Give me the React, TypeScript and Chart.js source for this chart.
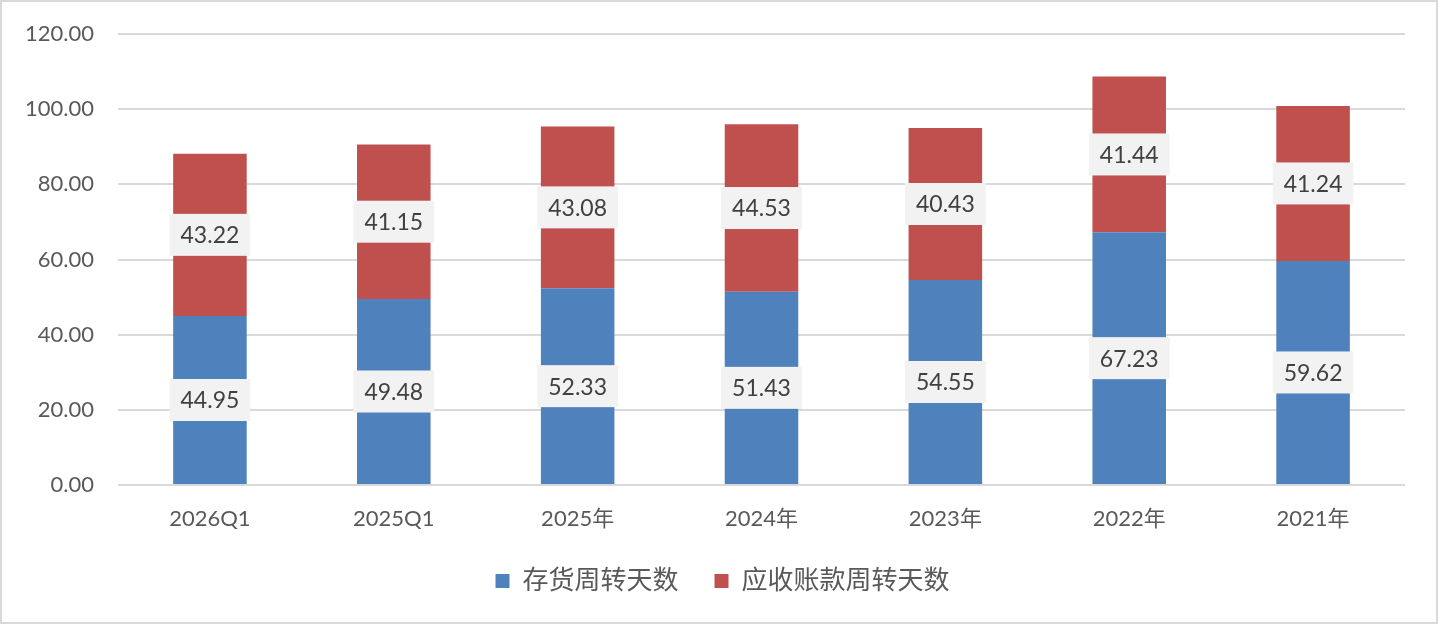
import React, { useEffect, useRef } from "react";
import { Chart, registerables } from "chart.js";

Chart.register(...registerables);

const categories = ["2026Q1", "2025Q1", "2025年", "2024年", "2023年", "2022年", "2021年"];
const inventoryDays = [44.95, 49.48, 52.33, 51.43, 54.55, 67.23, 59.62];
const receivableDays = [43.22, 41.15, 43.08, 44.53, 40.43, 41.44, 41.24];
const seriesNames = ["存货周转天数", "应收账款周转天数"];
const yTicks = [0, 20, 40, 60, 80, 100, 120];

const FONT = "Lato, 'Noto Sans CJK SC', sans-serif";

// labels in the middle of each segment, on a light grey box
const segmentLabels = {
  id: "segmentLabels",
  afterDatasetsDraw(chart: any) {
    const ctx = chart.ctx;
    ctx.save();
    ctx.font = `23px ${FONT}`;
    ctx.textAlign = "center";
    ctx.textBaseline = "middle";
    chart.data.datasets.forEach((ds: any, i: number) => {
      const meta = chart.getDatasetMeta(i);
      meta.data.forEach((bar: any, j: number) => {
        const text = Number(ds.data[j]).toFixed(2);
        const cy = (bar.y + bar.base) / 2;
        const w = ctx.measureText(text).width + 22;
        const h = 42;
        ctx.fillStyle = "#f2f2f2";
        ctx.fillRect(bar.x - w / 2, cy - h / 2, w, h);
        ctx.fillStyle = "#404040";
        ctx.fillText(text, bar.x, cy + 1);
      });
    });
    ctx.restore();
  },
};

// the legend sits a little right of centre in the original
const legendShift = {
  id: "legendShift",
  afterLayout(chart: any) {
    if (chart.legend) {
      chart.legend.left += 11;
      chart.legend.right += 11;
    }
  },
};

const App = () => {
  const canvasRef = useRef<HTMLCanvasElement | null>(null);

  useEffect(() => {
    document.body.style.margin = "0";
    const ctx = canvasRef.current?.getContext("2d") as CanvasRenderingContext2D;
    const chart = new Chart(ctx, {
      type: "bar",
      data: {
        labels: categories,
        datasets: [
          {
            label: seriesNames[0],
            data: inventoryDays,
            backgroundColor: "#4f81bd",
            categoryPercentage: 0.8,
            barPercentage: 0.5,
          },
          {
            label: seriesNames[1],
            data: receivableDays,
            backgroundColor: "#c0504d",
            categoryPercentage: 0.8,
            barPercentage: 0.5,
          },
        ],
      },
      options: {
        animation: false,
        responsive: true,
        maintainAspectRatio: false,
        layout: { padding: { left: 16, right: 31, top: 32, bottom: 18 } },
        scales: {
          x: {
            stacked: true,
            grid: { display: false },
            border: { display: false },
            ticks: { color: "#595959", font: { family: FONT, size: 22 }, padding: 13 },
            afterFit: (scale: any) => {
              scale.height = 47;
            },
          },
          y: {
            stacked: true,
            min: 0,
            max: 120,
            afterBuildTicks: (scale: any) => {
              scale.ticks = yTicks.map((v) => ({ value: v }));
            },
            grid: { color: "#d9d9d9", lineWidth: 2, drawTicks: false },
            border: { display: false },
            ticks: {
              color: "#595959",
              font: { family: FONT, size: 22 },
              padding: 24,
              callback: (v: any) => Number(v).toFixed(2),
            },
            afterFit: (scale: any) => {
              scale.width = 100;
              scale.paddingTop = 0;
              scale.paddingBottom = 0;
            },
          },
        },
        plugins: {
          legend: {
            position: "bottom",
            labels: {
              color: "#595959",
              font: { family: FONT, size: 26 },
              boxWidth: 14,
              boxHeight: 14,
              padding: 36,
            },
          },
          tooltip: { enabled: false },
        },
      },
      plugins: [segmentLabels, legendShift],
    } as any);

    return () => {
      chart.destroy();
    };
  }, []);

  return (
    <div
      style={{
        position: "absolute",
        left: 0,
        top: 0,
        width: 1438,
        height: 624,
        border: "2px solid #d9d9d9",
        boxSizing: "border-box",
        background: "#fff",
      }}
    >
      <div style={{ position: "relative", width: "100%", height: "100%" }}>
        <canvas ref={canvasRef} />
      </div>
    </div>
  );
};

export default App;
